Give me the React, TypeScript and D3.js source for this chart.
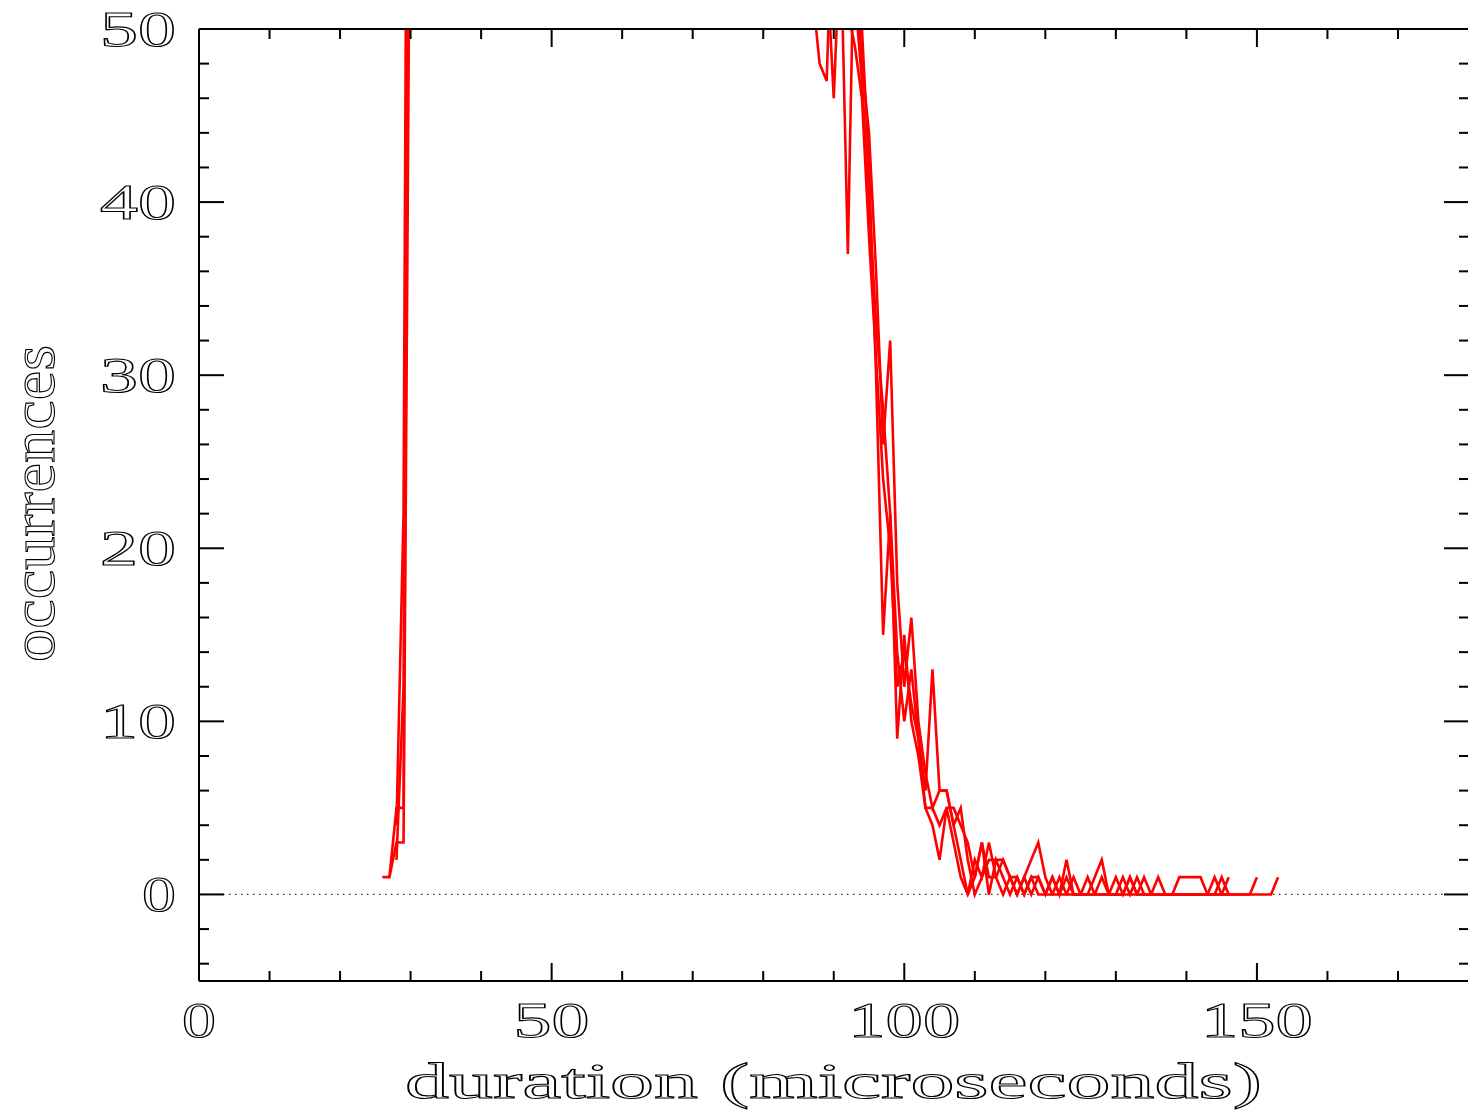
import React from "react";
import * as d3 from "d3";

const W = 1468;
const H = 1113;

// x tick values
const xMajorTicks = [0, 50, 100, 150];
const xMinorTicks = [10, 20, 30, 40, 60, 70, 80, 90, 110, 120, 130, 140, 160, 170];
const xTickLabels = ["0", "50", "100", "150"];
// y tick values
const yMajorTicks = [0, 10, 20, 30, 40, 50];
const yMinorTicks = [-4, -2, 2, 4, 6, 8, 12, 14, 16, 18, 22, 24, 26, 28, 32, 34, 36, 38, 42, 44, 46, 48];
const yTickLabels = ["0", "10", "20", "30", "40", "50"];

const xTitle = "duration (microseconds)";
const yTitle = "occurrences";

// series: [duration µs, occurrences]
const series1: [number, number][] = [
  [26, 1], [27, 1], [28, 5], [29, 5], [30, 78], [31, 160], [45, 420], [60, 510], [75, 380],
  [86, 90], [87, 52], [88, 48], [89, 47], [90, 60], [91, 55], [92, 37], [93, 58], [94, 50],
  [95, 42], [96, 30], [97, 15], [98, 22], [99, 9], [100, 15], [101, 10], [102, 8], [103, 5],
  [104, 4], [105, 2], [106, 5], [107, 3], [108, 1], [109, 0], [110, 1], [111, 3], [112, 0],
  [113, 2], [114, 1], [115, 0], [116, 1], [117, 0], [118, 1], [119, 0], [120, 0], [121, 1],
  [122, 0], [123, 2], [124, 0], [125, 0], [126, 0], [127, 1], [128, 2], [129, 0], [130, 0],
  [131, 1], [132, 0], [133, 1], [134, 0], [135, 0], [136, 1], [137, 0], [138, 0], [139, 1],
  [140, 1], [141, 1], [142, 1], [143, 0], [144, 0], [145, 0], [146, 0], [147, 0], [148, 0],
  [149, 0], [150, 0], [151, 0], [152, 0], [153, 1],
];
const series2: [number, number][] = [
  [27, 1], [28, 3], [29, 3], [30, 65], [31, 140], [50, 450], [70, 520], [86, 85], [87, 60],
  [88, 50], [89, 54], [90, 46], [91, 56], [92, 60], [93, 54], [94, 48], [95, 44], [96, 36],
  [97, 26], [98, 32], [99, 18], [100, 12], [101, 16], [102, 10], [103, 7], [104, 5], [105, 6],
  [106, 6], [107, 4], [108, 2], [109, 0], [110, 2], [111, 1], [112, 3], [113, 1], [114, 0],
  [115, 1], [116, 0], [117, 1], [118, 2], [119, 3], [120, 1], [121, 0], [122, 0], [123, 1],
  [124, 0], [125, 0], [126, 1], [127, 0], [128, 0], [129, 0], [130, 1], [131, 0], [132, 1],
  [133, 0], [134, 0], [135, 0], [136, 0], [137, 0], [138, 0], [139, 0], [140, 0], [141, 0],
  [142, 0], [143, 0], [144, 1], [145, 0], [146, 0], [147, 0], [148, 0], [149, 0], [150, 1],
];
const series3: [number, number][] = [
  [28, 4], [29, 22], [30, 110], [40, 380], [65, 490], [86, 95], [87, 58], [88, 55], [89, 60],
  [90, 58], [91, 62], [92, 56], [93, 52], [94, 47], [95, 40], [96, 33], [97, 28], [98, 22],
  [99, 14], [100, 10], [101, 13], [102, 9], [103, 6], [104, 13], [105, 6], [106, 6], [107, 4],
  [108, 5], [109, 2], [110, 0], [111, 1], [112, 2], [113, 2], [114, 2], [115, 1], [116, 0],
  [117, 1], [118, 0], [119, 1], [120, 0], [121, 1], [122, 0], [123, 0], [124, 1], [125, 0],
  [126, 0], [127, 0], [128, 1], [129, 0], [130, 0], [131, 0], [132, 0], [133, 0], [134, 1],
  [135, 0], [136, 0], [137, 0], [138, 0], [139, 0], [140, 0], [141, 0], [142, 0], [143, 0],
  [144, 0], [145, 1], [146, 0],
];
const series4: [number, number][] = [
  [28, 2], [29, 12], [30, 95], [42, 400], [68, 500], [86, 100], [87, 70], [88, 62], [89, 58],
  [90, 57], [91, 54], [92, 51], [93, 49], [94, 46], [95, 38], [96, 31], [97, 24], [98, 20],
  [99, 12], [100, 14], [101, 11], [102, 9], [103, 5], [104, 5], [105, 4], [106, 5], [107, 5],
  [108, 4], [109, 3], [110, 1], [111, 3], [112, 1], [113, 1], [114, 2], [115, 1], [116, 1],
  [117, 0], [118, 1], [119, 1], [120, 0], [121, 0], [122, 1], [123, 0], [124, 0], [125, 0],
  [126, 0], [127, 0], [128, 0], [129, 0], [130, 0], [131, 0], [132, 1], [133, 0], [134, 0],
  [135, 0], [136, 0], [137, 0], [138, 0], [139, 0], [140, 0], [141, 0], [142, 0], [143, 0],
  [144, 0], [145, 0], [146, 1],
];
const allSeries = [series1, series2, series3, series4];

export default function App() {
  const left = 199;
  const top = 29;
  const bottom = 981;
  const right = 1468.5;
  const x = d3.scaleLinear().domain([0, 180]).range([left, right]);
  const y = d3.scaleLinear().domain([-5, 50]).range([bottom, top]);
  const line = d3
    .line<[number, number]>()
    .x((d) => x(d[0]))
    .y((d) => y(d[1]));

  const font = "'Liberation Serif', 'DejaVu Serif', serif";
  const labelWidth = (s: string) => (s.length === 1 ? 34 : s.length === 2 ? 76 : 112);
  const textStyle = { fill: "none", stroke: "#000", strokeWidth: 1.1 };

  return (
    <svg
      width={W}
      height={H}
      style={{ position: "absolute", left: 0, top: 0, background: "#fff" }}
    >
      <defs>
        <clipPath id="plotclip">
          <rect x={left} y={top} width={right - left} height={bottom - top} />
        </clipPath>
      </defs>
      <rect x={0} y={0} width={W} height={H} fill="#fff" />

      {/* zero dotted line */}
      <line
        x1={left}
        x2={1444}
        y1={y(0)}
        y2={y(0)}
        stroke="#333"
        strokeWidth={1.2}
        strokeDasharray="1.5,4.5"
      />

      {/* series */}
      <g clipPath="url(#plotclip)">
        {allSeries.map((s, i) => (
          <path key={i} d={line(s) || ""} fill="none" stroke="#ff0000" strokeWidth={2.6} strokeLinejoin="miter" />
        ))}
      </g>

      {/* frame */}
      <g stroke="#000" strokeWidth={2} fill="none">
        <line x1={left} x2={left} y1={top} y2={bottom} />
        <line x1={left} x2={W} y1={top} y2={top} />
        <line x1={left} x2={W} y1={bottom} y2={bottom} />
        {xMajorTicks.map((t) => (
          <g key={"xM" + t}>
            <line x1={x(t)} x2={x(t)} y1={bottom} y2={bottom - 18} />
            <line x1={x(t)} x2={x(t)} y1={top} y2={top + 18} />
          </g>
        ))}
        {xMinorTicks.map((t) => (
          <g key={"xm" + t}>
            <line x1={x(t)} x2={x(t)} y1={bottom} y2={bottom - 10} />
            <line x1={x(t)} x2={x(t)} y1={top} y2={top + 10} />
          </g>
        ))}
        {yMajorTicks.map((t) => (
          <g key={"yM" + t}>
            <line x1={left} x2={left + 25} y1={y(t)} y2={y(t)} />
            <line x1={W} x2={W - 24} y1={y(t)} y2={y(t)} />
          </g>
        ))}
        {yMinorTicks.map((t) => (
          <g key={"ym" + t}>
            <line x1={left} x2={left + 10} y1={y(t)} y2={y(t)} />
            <line x1={W} x2={W - 9} y1={y(t)} y2={y(t)} />
          </g>
        ))}
      </g>

      {/* tick labels */}
      <g fontFamily={font} fontSize={50} style={textStyle}>
        {yMajorTicks.map((t, i) => (
          <text
            key={"yl" + t}
            x={176}
            y={y(t) + 17}
            textAnchor="end"
            textLength={labelWidth(yTickLabels[i])}
            lengthAdjust="spacingAndGlyphs"
          >
            {yTickLabels[i]}
          </text>
        ))}
        {xMajorTicks.map((t, i) => (
          <text
            key={"xl" + t}
            x={x(t)}
            y={1037}
            textAnchor="middle"
            textLength={labelWidth(xTickLabels[i])}
            lengthAdjust="spacingAndGlyphs"
          >
            {xTickLabels[i]}
          </text>
        ))}
      </g>

      {/* axis titles */}
      <text
        x={405}
        y={1098}
        fontFamily={font}
        fontSize={50}
        textLength={857}
        lengthAdjust="spacingAndGlyphs"
        style={textStyle}
      >
        {xTitle}
      </text>
      <text
        transform={`translate(54, 662) rotate(-90)`}
        fontFamily={font}
        fontSize={62}
        textLength={317}
        lengthAdjust="spacingAndGlyphs"
        style={textStyle}
      >
        {yTitle}
      </text>
    </svg>
  );
}
